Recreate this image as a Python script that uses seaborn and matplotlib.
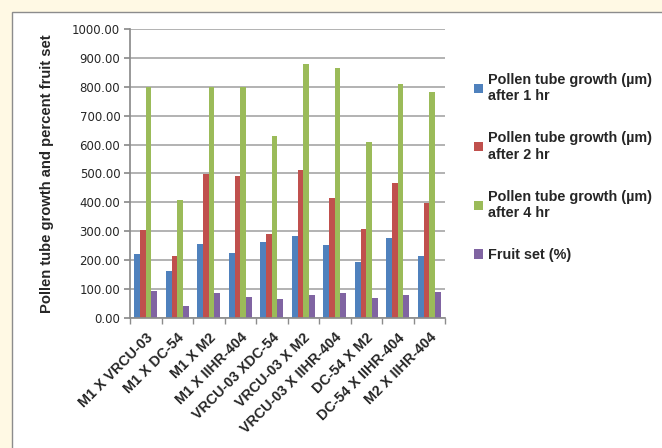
import matplotlib
matplotlib.use("Agg")
import matplotlib.pyplot as plt
from matplotlib.patches import Rectangle, Patch
import pandas as pd
import seaborn as sns

crosses = ["M1 X VRCU-03", "M1 X DC-54", "M1 X M2", "M1 X IIHR-404", "VRCU-03 XDC-54",
           "VRCU-03 X M2", "VRCU-03 X IIHR-404", "DC-54 X M2", "DC-54 X IIHR-404", "M2 X IIHR-404"]
growth_1hr = [221, 161, 255, 226, 262, 284, 252, 195, 276, 215]
growth_2hr = [305, 214, 498, 490, 291, 512, 415, 309, 468, 397]
growth_4hr = [800, 407, 800, 800, 629, 878, 864, 610, 810, 783]
fruit_set = [93, 41, 85, 74, 67, 79, 85, 70, 79, 89]
series_names = ["Pollen tube growth (\u00b5m)\nafter 1 hr",
                "Pollen tube growth (\u00b5m)\nafter 2 hr",
                "Pollen tube growth (\u00b5m)\nafter 4 hr",
                "Fruit set (%)"]
colors = ["#4F81BD", "#C0504D", "#9BBB59", "#8064A2"]
yticks = [0, 100, 200, 300, 400, 500, 600, 700, 800, 900, 1000]

rows = []
for name, vals in zip(series_names, [growth_1hr, growth_2hr, growth_4hr, fruit_set]):
    for c, v in zip(crosses, vals):
        rows.append({"cross": c, "series": name, "value": v})
df = pd.DataFrame(rows)

sns.set_theme(style="white")
plt.rcParams["font.family"] = ["Liberation Sans", "DejaVu Sans"]

fig = plt.figure(figsize=(6.62, 4.48), dpi=100)
fig.patch.set_facecolor("#FFF9E4")
# white chart panel with a grey border on the left and top
panel = Rectangle((12 / 662, -0.01), 1.0, 1 - 12 / 448 + 0.01,
                  transform=fig.transFigure, facecolor="white",
                  edgecolor="#8C8C8C", linewidth=1.0, zorder=-10)
fig.add_artist(panel)

ax = fig.add_axes([130 / 662, 1 - 318 / 448, (445 - 130) / 662, (318 - 29) / 448])
ax.set_zorder(1)
ax.set_facecolor("none")
sns.barplot(data=df, x="cross", y="value", hue="series", palette=colors,
            width=0.72, gap=0, ax=ax, legend=False, saturation=1,
            edgecolor="none", linewidth=0)

ax.set_ylim(0, 1000)
ax.set_xlim(-0.5, len(crosses) - 0.5)
ax.set_yticks(yticks)
ax.set_yticklabels([f"{v:.2f}" for v in yticks], fontsize=8.5, family="DejaVu Sans")
ax.yaxis.grid(True, color="#A6A6A6", linewidth=1.2)
ax.set_axisbelow(True)
for s in ["top", "right"]:
    ax.spines[s].set_visible(False)
ax.spines["left"].set_color("#8C8C8C")
ax.spines["bottom"].set_color("#8C8C8C")
ax.tick_params(axis="y", length=4, color="#8C8C8C", direction="out", left=True, pad=3)
ax.set_xticks(range(len(crosses)))
ax.set_xticklabels(crosses, rotation=45, ha="right", rotation_mode="anchor",
                   fontsize=10.3, fontweight="bold")
ax.set_xticks([i - 0.5 for i in range(len(crosses) + 1)], minor=True)
ax.tick_params(axis="x", which="major", length=0, pad=9)
ax.tick_params(axis="x", which="minor", length=4, color="#8C8C8C", bottom=True, direction="out")
ax.set_xlabel("")
ax.set_ylabel("Pollen tube growth and percent fruit set", fontsize=10.6,
              fontweight="bold", labelpad=13)

handles = [Patch(facecolor=c, edgecolor="none") for c in colors]
fig.legend(handles, series_names, loc="upper left", bbox_to_anchor=(461 / 662, 1 - 60 / 448),
           frameon=False, prop={"weight": "bold", "size": 10.4}, handlelength=0.6,
           handleheight=0.6, handletextpad=0.4, labelspacing=1.95)

fig.savefig("out.png", dpi=100, facecolor=fig.get_facecolor())
